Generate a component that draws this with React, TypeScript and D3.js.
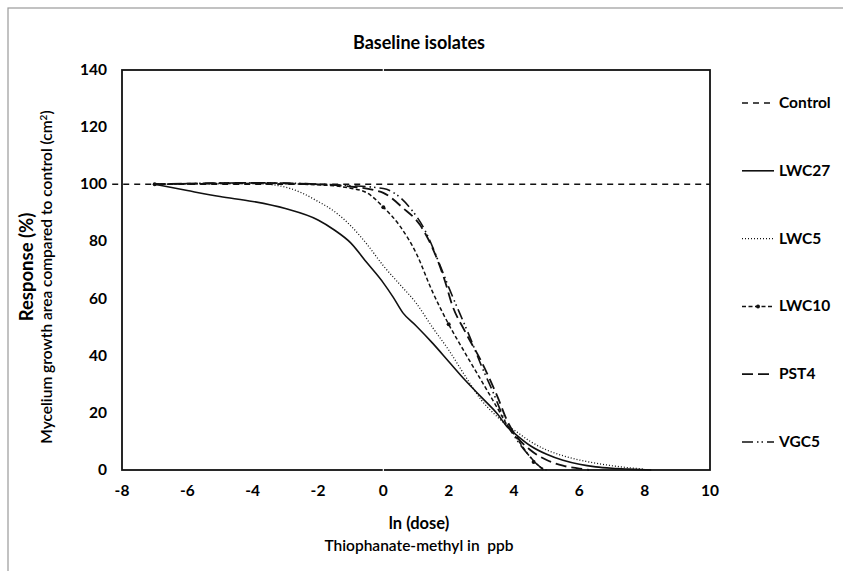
import * as d3 from "d3";

// chart values
const xTicks = [-8, -6, -4, -2, 0, 2, 4, 6, 8, 10];
const yTicks = [0, 20, 40, 60, 80, 100, 120, 140];

const controlX = [-8.3, 10];
const controlY = [100, 100];

const lwc27X = [-7, -6, -5, -4, -3, -2, -1.5, -1, -0.5, 0, 0.3, 0.6, 1, 1.5, 2, 2.5, 3, 3.5, 3.8, 4, 4.5, 5, 5.5, 6, 6.5, 7, 7.5, 8.2];
const lwc27Y = [100, 97.8, 95.7, 94, 91.5, 87.5, 84, 79.5, 72.5, 65.5, 60.5, 55, 50.5, 44.5, 38, 31.5, 25.5, 19.5, 15, 13, 8.5, 5.5, 3.4, 2, 1.1, 0.6, 0.3, 0];

const lwc5X = [-7, -5, -4, -3.2, -2.5, -2, -1.5, -1, -0.5, 0, 0.5, 1, 1.5, 2, 2.5, 3, 3.5, 3.8, 4, 4.5, 5, 5.5, 6, 6.5, 7, 7.5, 8];
const lwc5Y = [100, 100.2, 100.3, 99.5, 97, 94, 90.5, 85.5, 79, 71.5, 65, 58.5, 50, 42, 33, 24.5, 18.5, 15.5, 14, 10, 7, 5, 3.5, 2.4, 1.5, 0.8, 0.3];

const lwc10X = [-7, -4, -2, -1, -0.5, 0, 0.5, 1, 1.5, 2, 2.5, 3, 3.5, 3.8, 4, 4.5, 4.85, 5];
const lwc10Y = [100, 100.3, 99.8, 98.6, 97, 92, 85.5, 76, 62.5, 51, 41, 31.3, 21.5, 15.5, 12.5, 4.5, 0.7, 0];
const lwc10MarkX = [-7, 0, 2, 4.6];
const lwc10MarkY = [100, 92, 51, 2.8];

const pst4X = [-7, -4, -2, -1, -0.3, 0, 0.6, 1.12, 1.64, 1.89, 2.1, 2.5, 3, 3.5, 3.8, 4, 4.5, 5, 5.5, 6, 6.3];
const pst4Y = [100, 100.5, 100, 99.2, 98, 97, 91.7, 85.8, 74, 66, 58, 48.5, 38, 25.5, 17, 13, 7, 3.5, 1.5, 0.5, 0];

const vgc5X = [-7, -4, -1, 0, 0.82, 1.27, 1.73, 2, 2.65, 3.02, 3.33, 3.78, 4, 4.5, 4.9];
const vgc5Y = [100, 100.5, 99.5, 98.5, 91.7, 84, 71.8, 64, 46.5, 36, 28, 16, 12, 4.5, 0];

const seriesNames = ["Control", "LWC27", "LWC5", "LWC10", "PST4", "VGC5"];

const FONT = "Lato, 'Open Sans', sans-serif";

type Style = { dash: string; width: number };
const styles: Record<string, Style> = {
  Control: { dash: "6,5", width: 1.6 },
  LWC27: { dash: "", width: 1.6 },
  LWC5: { dash: "1,2", width: 1.3 },
  LWC10: { dash: "4,2.5", width: 1.5 },
  PST4: { dash: "11,5", width: 1.8 },
  VGC5: { dash: "11,4,1.5,3,1.5,4", width: 1.6 },
};

const zip = (xs: number[], ys: number[]) => xs.map((x, i) => [x, ys[i]] as [number, number]);

export default function App() {
  const W = 843;
  const H = 571;
  const left = 122, right = 710, top = 70, bottom = 470;

  const x = d3.scaleLinear().domain([-8, 10]).range([left, right]);
  const y = d3.scaleLinear().domain([0, 140]).range([bottom, top]);

  const line = d3
    .line<[number, number]>()
    .x((d) => x(d[0]))
    .y((d) => y(d[1]))
    .curve(d3.curveMonotoneX);

  const series: Record<string, [number, number][]> = {
    Control: zip(controlX, controlY),
    LWC27: zip(lwc27X, lwc27Y),
    LWC5: zip(lwc5X, lwc5Y),
    LWC10: zip(lwc10X, lwc10Y),
    PST4: zip(pst4X, pst4Y),
    VGC5: zip(vgc5X, vgc5Y),
  };

  // legend rows (y positions in px)
  const legendY = d3.scalePoint<string>().domain(seriesNames).range([103, 442]);

  return (
    <svg
      width={W}
      height={H}
      style={{ position: "absolute", left: 0, top: 0, background: "#fff" }}
      fontFamily={FONT}
    >
      <rect x={0} y={0} width={W} height={H} fill="#fff" />
      <rect x={8} y={8} width={W + 20} height={H + 20} fill="none" stroke="#9a9a9a" strokeWidth={1.2} />

      <text x={419} y={49} textAnchor="middle" fontSize={18} fontWeight="bold">
        Baseline isolates
      </text>

      {/* plot frame */}
      <rect x={left} y={top} width={right - left} height={bottom - top} fill="none" stroke="#111" strokeWidth={1.8} />
      <line x1={x(0)} x2={x(0)} y1={top - 1} y2={top + 2} stroke="#fff" strokeWidth={1.2} />
      <line x1={x(0)} x2={x(0)} y1={bottom - 2} y2={bottom + 1} stroke="#fff" strokeWidth={1.2} />

      {/* y ticks */}
      {yTicks.map((t) => (
        <text key={t} x={107} y={y(t) + 5} textAnchor="end" fontSize={15.5} fontWeight="bold">
          {t}
        </text>
      ))}
      {/* x ticks */}
      {xTicks.map((t) => (
        <text key={t} x={x(t)} y={496} textAnchor="middle" fontSize={15.5} fontWeight="bold">
          {t}
        </text>
      ))}

      <text x={419} y={529} textAnchor="middle" fontSize={16.5} fontWeight="bold">
        ln (dose)
      </text>
      <text x={419} y={551} textAnchor="middle" fontSize={15.5} fontWeight={600} xmlSpace="preserve">
        Thiophanate-methyl in  ppb
      </text>

      <text transform="translate(33,267) rotate(-90)" textAnchor="middle" fontSize={18.5} fontWeight="bold">
        Response (%)
      </text>
      <text transform="translate(52,277) rotate(-90)" textAnchor="middle" fontSize={15.5} fontWeight={600}>
        Mycelium growth area compared to control (cm<tspan dy={-5} fontSize={10}>2</tspan>
        <tspan dy={5}>)</tspan>
      </text>

      {/* curves */}
      <g fill="none" stroke="#111">
        {seriesNames.map((n) => (
          <path
            key={n}
            d={line(series[n]) || ""}
            strokeDasharray={styles[n].dash || undefined}
            strokeWidth={styles[n].width}
          />
        ))}
        {lwc10MarkX.map((mx, i) => (
          <circle key={i} cx={x(mx)} cy={y(lwc10MarkY[i])} r={2} fill="#111" stroke="none" />
        ))}
      </g>

      {/* legend */}
      {seriesNames.map((n) => {
        const ly = legendY(n) as number;
        return (
          <g key={n}>
            <line
              x1={742}
              x2={774}
              y1={ly}
              y2={ly}
              stroke="#111"
              strokeWidth={styles[n].width}
              strokeDasharray={styles[n].dash || undefined}
            />
            {n === "LWC10" && <circle cx={758} cy={ly} r={2} fill="#111" />}
            <text x={779} y={ly + 5} fontSize={15.5} fontWeight="bold">
              {n}
            </text>
          </g>
        );
      })}
    </svg>
  );
}
